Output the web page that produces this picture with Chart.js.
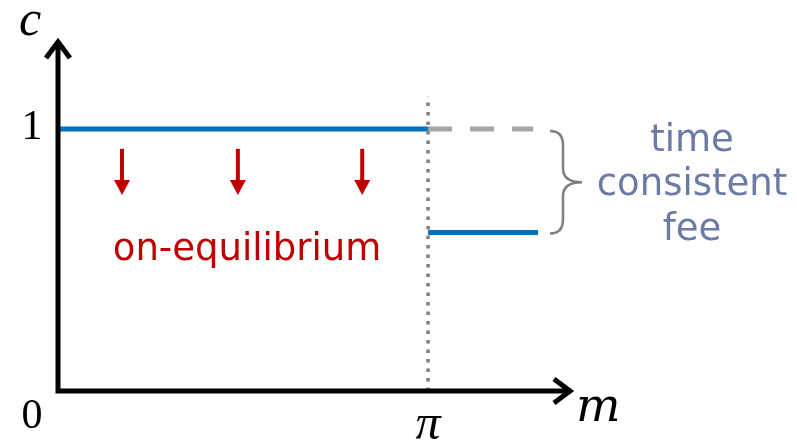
<!DOCTYPE html>
<html>
<head>
<meta charset="utf-8">
<script src="https://cdn.jsdelivr.net/npm/chart.js@4.4.1/dist/chart.umd.min.js"></script>
<style>
  html, body { margin: 0; padding: 0; background: #fff; }
</style>
</head>
<body>
<canvas id="chart" width="797" height="444"></canvas>
<script>
// axis range (m is scaled so that pi = 1)
const X_MAX = 1.397;
const Y_MAX = 1.351;
const PI_M = 1.0;

// fee levels
const feeFull = [1, 1];              // c = 1 for m in [0, pi]
const feeFullX = [0, PI_M];
const feeTC = [0.605, 0.605];        // time consistent fee, m > pi
const feeTCX = [PI_M, 1.297];
const feeOldX = [PI_M, 1.284];       // dashed continuation of c = 1
const feeOld = [1, 1];
const dotTop = 1.125;

// red "on-equilibrium" arrows
const arrowX = [0.173, 0.486, 0.822];
const arrowFrom = 0.924;
const arrowTo = 0.748;

// tick labels
const yTicks = [{ v: 0, t: "0" }, { v: 1, t: "1" }];
const xTicks = [{ v: PI_M, t: "π" }];

const pts = (xs, ys) => xs.map((x, i) => ({ x: x, y: ys[i] }));

const overlay = {
  id: "overlay",
  afterDatasetsDraw(chart) {
    const { ctx, scales: { x, y } } = chart;
    const x0 = x.getPixelForValue(0);
    const y0 = y.getPixelForValue(0);
    const xEnd = x.getPixelForValue(X_MAX);
    const yTop = y.getPixelForValue(Y_MAX);
    ctx.save();

    // axes with open arrow heads
    ctx.strokeStyle = "#000";
    ctx.lineWidth = 5;
    ctx.lineJoin = "miter";
    ctx.lineCap = "butt";
    ctx.beginPath();
    ctx.moveTo(x0, y0 + 2.5);
    ctx.lineTo(x0, yTop + 4);
    ctx.moveTo(x0 - 2.5, y0);
    ctx.lineTo(xEnd - 4, y0);
    ctx.stroke();
    ctx.beginPath();
    ctx.moveTo(x0 - 12, yTop + 21);
    ctx.lineTo(x0, yTop + 5);
    ctx.lineTo(x0 + 12, yTop + 21);
    ctx.stroke();
    ctx.beginPath();
    ctx.moveTo(xEnd - 21, y0 - 12);
    ctx.lineTo(xEnd - 5, y0);
    ctx.lineTo(xEnd - 21, y0 + 12);
    ctx.stroke();

    // red arrows
    ctx.fillStyle = "#C00000";
    ctx.strokeStyle = "#C00000";
    ctx.lineWidth = 4;
    arrowX.forEach(v => {
      const px = x.getPixelForValue(v);
      const pTop = y.getPixelForValue(arrowFrom);
      const pTip = y.getPixelForValue(arrowTo);
      ctx.beginPath();
      ctx.moveTo(px, pTop);
      ctx.lineTo(px, pTip - 12);
      ctx.stroke();
      ctx.beginPath();
      ctx.moveTo(px - 8, pTip - 15);
      ctx.lineTo(px + 8, pTip - 15);
      ctx.lineTo(px, pTip);
      ctx.closePath();
      ctx.fill();
    });

    // brace between the two fee levels
    const bx = x.getPixelForValue(feeTCX[1]) + 12;
    const bTop = y.getPixelForValue(feeOld[1]) + 2;
    const bBot = y.getPixelForValue(feeTC[1]) + 1;
    const bMid = (bTop + bBot) / 2;
    const sx = bx + 13;
    ctx.strokeStyle = "#7F7F7F";
    ctx.lineWidth = 2.5;
    ctx.beginPath();
    ctx.moveTo(bx, bTop);
    ctx.quadraticCurveTo(sx, bTop, sx, bTop + 14);
    ctx.lineTo(sx, bMid - 14);
    ctx.quadraticCurveTo(sx, bMid, sx + 19, bMid);
    ctx.quadraticCurveTo(sx, bMid, sx, bMid + 14);
    ctx.lineTo(sx, bBot - 14);
    ctx.quadraticCurveTo(sx, bBot, bx, bBot);
    ctx.stroke();

    // texts
    ctx.textAlign = "center";
    ctx.textBaseline = "alphabetic";
    ctx.fillStyle = "#C00000";
    ctx.font = "37px 'DejaVu Sans'";
    ctx.fillText("on-equilibrium", 247, y.getPixelForValue(0.5));

    ctx.fillStyle = "#6B7BA5";
    ctx.font = "37px 'DejaVu Sans'";
    ctx.fillText("time", 692, 151);
    ctx.fillText("consistent", 692, 195);
    ctx.fillText("fee", 692, 240);

    // tick labels and axis names
    ctx.fillStyle = "#000";
    ctx.font = "42px 'Liberation Serif'";
    ctx.textAlign = "center";
    yTicks.forEach(t => {
      const py = y.getPixelForValue(t.v);
      ctx.fillText(t.t, 32, t.v === 0 ? py + 37 : py + 10);
    });
    ctx.font = "italic 50px 'Liberation Serif'";
    xTicks.forEach(t => {
      ctx.fillText(t.t, x.getPixelForValue(t.v), y0 + 48);
    });
    ctx.fillText("c", 30, 35);
    ctx.textAlign = "left";
    ctx.font = "italic 47px 'DejaVu Serif'";
    ctx.fillText("m", 576, y0 + 30);
    ctx.restore();
  }
};

new Chart(document.getElementById("chart"), {
  type: "scatter",
  data: {
    datasets: [
      {
        data: pts([PI_M, PI_M], [0, dotTop]),
        showLine: true, borderColor: "#808080", borderWidth: 3.5,
        borderDash: [3.5, 6], pointRadius: 0, clip: false
      },
      {
        data: pts(feeFullX, feeFull),
        showLine: true, borderColor: "#0070C0", borderWidth: 5,
        pointRadius: 0, clip: false
      },
      {
        data: pts(feeOldX, feeOld),
        showLine: true, borderColor: "#A6A6A6", borderWidth: 5,
        borderDash: [24, 18], pointRadius: 0, clip: false
      },
      {
        data: pts(feeTCX, feeTC),
        showLine: true, borderColor: "#0070C0", borderWidth: 5,
        pointRadius: 0, clip: false
      }
    ]
  },
  options: {
    responsive: false,
    animation: false,
    layout: { padding: { left: 58, right: 222, top: 37, bottom: 53 } },
    plugins: { legend: { display: false }, tooltip: { enabled: false } },
    scales: {
      x: { type: "linear", min: 0, max: X_MAX, display: false },
      y: { type: "linear", min: 0, max: Y_MAX, display: false }
    }
  },
  plugins: [overlay]
});
</script>
</body>
</html>
